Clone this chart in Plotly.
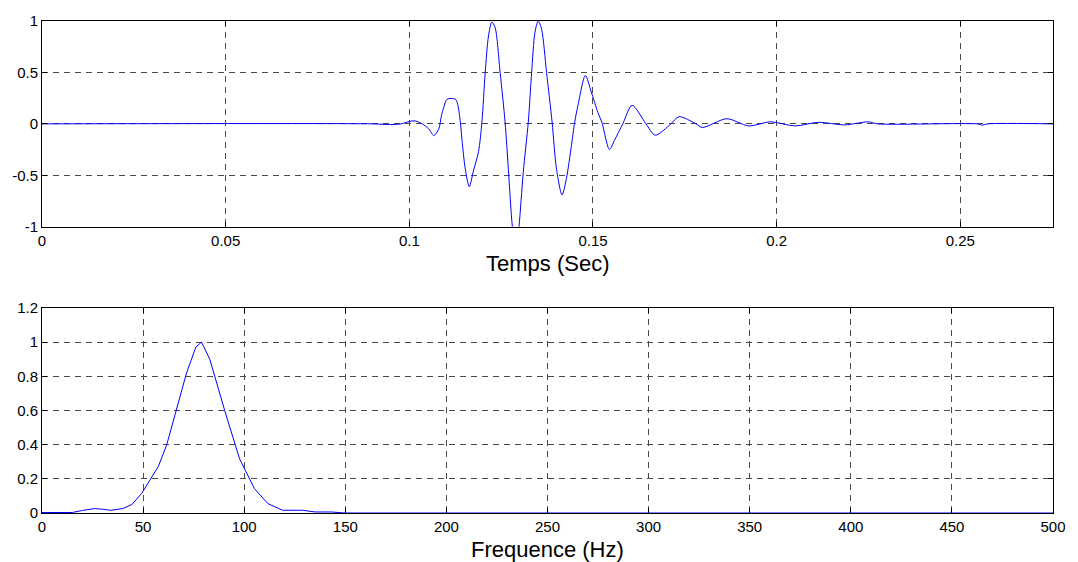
import plotly.graph_objects as go

# ---- Top panel: wavelet in time (seconds) ----
time_s = [0.0, 0.0900, 0.09494, 0.09765, 0.10125, 0.10352, 0.10531, 0.10666, 0.10801,
          0.10874, 0.10937, 0.11029, 0.11254, 0.11316, 0.11389, 0.11435, 0.11524,
          0.11632, 0.11749, 0.11884, 0.11976, 0.12066, 0.12155, 0.12247, 0.12336,
          0.12472, 0.12607, 0.12696, 0.12805, 0.12905, 0.12986, 0.13102, 0.13238,
          0.13330, 0.13419, 0.13508, 0.13601, 0.13736, 0.13887, 0.14007, 0.14158,
          0.14277, 0.14413, 0.14502, 0.14591, 0.14792, 0.14954, 0.15133, 0.15241,
          0.15450, 0.15585, 0.15810, 0.16064, 0.16443, 0.16695, 0.17120, 0.17344,
          0.17805, 0.17975, 0.18644, 0.19239, 0.19827, 0.20503, 0.21134, 0.21857,
          0.22488, 0.22759, 0.25466, 0.25601, 0.25736, 0.27523]
amplitude = [0.0, 0.0, -0.007, 0.0, 0.03, 0.0, -0.05, -0.113, -0.05,
             0.08, 0.16, 0.24, 0.24, 0.19, 0.016, -0.16, -0.44,
             -0.61, -0.45, -0.27, 0.016, 0.50, 0.855, 0.99, 0.935,
             0.50, 0.016, -0.44, -1.0, -1.25, -1.0, -0.47, 0.016,
             0.50, 0.887, 1.0, 0.92, 0.50, 0.016, -0.44, -0.69,
             -0.53, -0.21, 0.016, 0.18, 0.47, 0.31, 0.11, 0.016,
             -0.25, -0.16, 0.0, 0.18, 0.0, -0.11, 0.0, 0.07,
             0.0, -0.035, 0.05, -0.02, 0.02, -0.02, 0.015, -0.01,
             0.02, 0.0, 0.0, -0.012, 0.0, 0.0]

time_ticks = [0, 0.05, 0.1, 0.15, 0.2, 0.25]
time_tick_text = ["0", "0.05", "0.1", "0.15", "0.2", "0.25"]
amp_ticks = [-1, -0.5, 0, 0.5, 1]
amp_tick_text = ["-1", "-0.5", "0", "0.5", "1"]

# ---- Bottom panel: normalised amplitude spectrum (Hz) ----
freq_hz = [0, 15, 20, 26, 30, 34, 40, 44.5, 49.4, 54.3, 57.6, 61.7, 71.5, 76.1,
           78.9, 83, 90.4, 97.7, 105.1, 111.7, 119, 129, 135, 143, 150, 500]
spectrum = [0.003, 0.003, 0.015, 0.026, 0.022, 0.016, 0.026, 0.05, 0.116, 0.21,
            0.274, 0.40, 0.82, 0.971, 1.0, 0.899, 0.598, 0.317, 0.142, 0.055,
            0.016, 0.016, 0.006, 0.006, 0.0, 0.0]

freq_ticks = [0, 50, 100, 150, 200, 250, 300, 350, 400, 450, 500]
spec_ticks = [0, 0.2, 0.4, 0.6, 0.8, 1.0, 1.2]
spec_tick_text = ["0", "0.2", "0.4", "0.6", "0.8", "1", "1.2"]

FONT = "Liberation Sans, Arial, Helvetica, sans-serif"
LINE = "#0000ff"
GRID = "#4a4a4a"

fig = go.Figure()
fig.add_trace(go.Scatter(x=time_s, y=amplitude, mode="lines",
                         line=dict(color=LINE, width=1, shape="spline", smoothing=0.8),
                         xaxis="x", yaxis="y", showlegend=False, hoverinfo="skip"))
fig.add_trace(go.Scatter(x=freq_hz, y=spectrum, mode="lines",
                         line=dict(color=LINE, width=1),
                         xaxis="x2", yaxis="y2", showlegend=False, hoverinfo="skip"))

axis_common = dict(showline=True, linecolor="black", linewidth=1, mirror="ticks",
                   ticks="inside", ticklen=5, tickcolor="black", tickwidth=1,
                   showgrid=True, gridcolor=GRID, gridwidth=1, griddash="6px,5px",
                   zeroline=False, tickfont=dict(family=FONT, size=15, color="black"))

fig.update_layout(
    width=1078, height=562,
    margin=dict(l=40, r=21, t=18, b=49),
    paper_bgcolor="white", plot_bgcolor="white",
    font=dict(family=FONT, color="black"),
    xaxis=dict(domain=[0, 1], anchor="y", range=[0, 0.27523],
               tickvals=time_ticks, ticktext=time_tick_text, **axis_common),
    yaxis=dict(domain=[0.5818, 1.0], anchor="x", range=[-1, 1],
               tickvals=amp_ticks, ticktext=amp_tick_text, **axis_common),
    xaxis2=dict(domain=[0, 1], anchor="y2", range=[0, 500],
                tickvals=freq_ticks, layer="below traces", **axis_common),
    yaxis2=dict(domain=[0, 0.4168], anchor="x2", range=[0, 1.2],
                tickvals=spec_ticks, ticktext=spec_tick_text, **axis_common),
    annotations=[
        dict(text="Temps (Sec)", xref="x domain", yref="y domain", x=0.5, y=0,
             xanchor="center", yanchor="middle", yshift=-37, showarrow=False,
             font=dict(family=FONT, size=22, color="black")),
        dict(text="Frequence (Hz)", xref="x2 domain", yref="y2 domain", x=0.5, y=0,
             xanchor="center", yanchor="middle", yshift=-36, showarrow=False,
             font=dict(family=FONT, size=22, color="black")),
    ],
)

fig.write_html("out.html")
